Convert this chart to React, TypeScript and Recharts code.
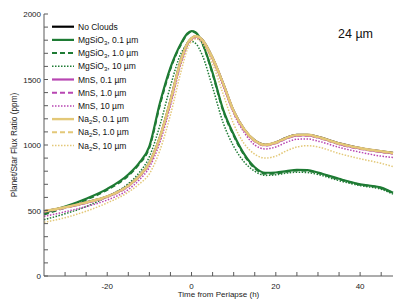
import { LineChart, Line, XAxis, YAxis } from "recharts"

// hours from periapse
const time = [-35, -30, -25, -20, -15, -12.5, -10, -7.5, -5, -2.5, -1, 0, 1, 2.5, 5, 7.5, 10, 12.5, 15, 17.5, 20, 22.5, 25, 27.5, 30, 35, 40, 45, 47.8]

// planet/star flux ratio, ppm
const noClouds = [495, 525, 562, 607, 690, 760, 864, 1060, 1340, 1650, 1775, 1815, 1832, 1805, 1665, 1470, 1260, 1120, 1035, 1002, 1020, 1055, 1077, 1078, 1062, 1012, 977, 952, 940]
const mgsio3_01 = [480, 530, 590, 665, 775, 860, 990, 1320, 1590, 1775, 1850, 1870, 1860, 1785, 1550, 1270, 1080, 930, 830, 788, 790, 800, 810, 808, 790, 742, 700, 675, 635]
const mgsio3_1 = [470, 522, 582, 658, 766, 852, 980, 1305, 1580, 1768, 1845, 1866, 1855, 1780, 1542, 1262, 1072, 922, 822, 780, 784, 795, 805, 803, 786, 738, 697, 671, 632]
const mgsio3_10 = [430, 475, 530, 605, 705, 785, 910, 1150, 1450, 1700, 1770, 1790, 1775, 1690, 1440, 1170, 990, 870, 800, 768, 772, 785, 792, 790, 775, 728, 690, 662, 625]
const mns_01 = [493, 523, 560, 605, 688, 758, 860, 1056, 1336, 1646, 1772, 1812, 1829, 1802, 1662, 1467, 1257, 1117, 1032, 999, 1017, 1052, 1074, 1075, 1059, 1009, 974, 949, 937]
const mns_1 = [490, 520, 557, 602, 684, 754, 856, 1050, 1330, 1640, 1768, 1810, 1826, 1799, 1658, 1463, 1253, 1113, 1028, 995, 1013, 1048, 1070, 1071, 1055, 1005, 970, 945, 933]
const mns_10 = [455, 490, 530, 580, 660, 730, 830, 1020, 1300, 1620, 1760, 1805, 1815, 1790, 1650, 1450, 1240, 1095, 1000, 970, 985, 1020, 1044, 1046, 1030, 982, 945, 915, 905]
const na2s_01 = [495, 525, 562, 607, 690, 760, 864, 1060, 1340, 1650, 1775, 1815, 1832, 1805, 1665, 1470, 1260, 1120, 1035, 1002, 1020, 1055, 1077, 1078, 1062, 1012, 977, 952, 940]
const na2s_1 = [492, 522, 559, 604, 686, 756, 860, 1054, 1334, 1644, 1771, 1812, 1829, 1802, 1661, 1466, 1256, 1116, 1031, 998, 1016, 1051, 1073, 1074, 1058, 1008, 973, 948, 936]
const na2s_10 = [410, 445, 495, 558, 640, 700, 780, 960, 1230, 1560, 1730, 1790, 1810, 1780, 1620, 1390, 1160, 1010, 930, 900, 915, 955, 985, 995, 985, 935, 895, 860, 835]

const xTicks = [-30, -25, -20, -15, -10, -5, 0, 5, 10, 15, 20, 25, 30, 35, 40, 45]
const yTicks = [0, 100, 200, 300, 400, 500, 600, 700, 800, 900, 1000, 1100, 1200, 1300, 1400, 1500, 1600, 1700, 1800, 1900, 2000]

const GREEN = "#1e7b34"
const MAGENTA = "#b846b2"
const GOLD = "#e3c878"
const AXIS = "#5a5a5a"
const FONT = "'Liberation Sans', Arial, Helvetica, sans-serif"

const DASH = "5 3"
const DOT = "1.5 1.5"

const series = [
  { key: "none", values: noClouds, color: "#000", dash: undefined, width: 2.2, name: "No Clouds", sub: "", rest: "" },
  { key: "mg01", values: mgsio3_01, color: GREEN, dash: undefined, width: 2.2, name: "MgSiO", sub: "3", rest: ", 0.1 µm" },
  { key: "mg1", values: mgsio3_1, color: GREEN, dash: DASH, width: 2, name: "MgSiO", sub: "3", rest: ", 1.0 µm" },
  { key: "mg10", values: mgsio3_10, color: GREEN, dash: DOT, width: 1.5, name: "MgSiO", sub: "3", rest: ", 10 µm" },
  { key: "mn01", values: mns_01, color: MAGENTA, dash: undefined, width: 2.2, name: "MnS, 0.1 µm", sub: "", rest: "" },
  { key: "mn1", values: mns_1, color: MAGENTA, dash: DASH, width: 2, name: "MnS, 1.0 µm", sub: "", rest: "" },
  { key: "mn10", values: mns_10, color: MAGENTA, dash: DOT, width: 1.5, name: "MnS, 10 µm", sub: "", rest: "" },
  { key: "na01", values: na2s_01, color: GOLD, dash: undefined, width: 2.4, name: "Na", sub: "2", rest: "S, 0.1 µm" },
  { key: "na1", values: na2s_1, color: GOLD, dash: DASH, width: 2, name: "Na", sub: "2", rest: "S, 1.0 µm" },
  { key: "na10", values: na2s_10, color: GOLD, dash: DOT, width: 1.5, name: "Na", sub: "2", rest: "S, 10 µm" },
]

const data = time.map((t, i) => {
  const row: Record<string, number> = { t }
  series.forEach((s) => (row[s.key] = s.values[i]))
  return row
})

function BottomTick({ x, y, payload }: any) {
  return (
    <g>
      <line x1={x} x2={x} y1={y} y2={y - 4} stroke={AXIS} />
      {payload.value % 20 === 0 && (
        <text x={x} y={y + 13} textAnchor="middle" fontSize={8} fill="#222" fontFamily={FONT}>
          {payload.value}
        </text>
      )}
    </g>
  )
}

function TopTick({ x, y }: any) {
  return <line x1={x} x2={x} y1={y} y2={y + 4} stroke={AXIS} />
}

function LeftTick({ x, y, payload }: any) {
  return (
    <g>
      <line x1={x} x2={x + 4} y1={y} y2={y} stroke={AXIS} />
      {payload.value % 500 === 0 && (
        <text x={x - 3} y={y + 3} textAnchor="end" fontSize={8} fill="#222" fontFamily={FONT}>
          {payload.value}
        </text>
      )}
    </g>
  )
}

function RightTick({ x, y }: any) {
  return <line x1={x} x2={x - 4} y1={y} y2={y} stroke={AXIS} />
}

function Overlay() {
  return (
    <svg width={407} height={305} style={{ position: "absolute", left: 0, top: 0, pointerEvents: "none" }}>
      {series.map((s, i) => {
        const cy = 26.7 + i * 13.2
        return (
          <g key={s.key}>
            <line x1={52} x2={74} y1={cy} y2={cy} stroke={s.color} strokeWidth={s.width} strokeDasharray={s.dash} />
            <text x={78} y={cy + 3} fontSize={8.5} fill="#111" fontFamily={FONT}>
              <tspan>{s.name}</tspan>
              {s.sub && (
                <tspan fontSize={6} dy={2}>
                  {s.sub}
                </tspan>
              )}
              {s.rest && <tspan dy={s.sub ? -2 : 0}>{s.rest}</tspan>}
            </text>
          </g>
        )
      })}
      <text x={338} y={38} fontSize={12.5} fill="#111" fontFamily={FONT}>
        24 µm
      </text>
      <text x={218.5} y={297} textAnchor="middle" fontSize={8} fill="#222" fontFamily={FONT}>
        Time from Periapse (h)
      </text>
      <text transform="translate(17,145) rotate(-90)" textAnchor="middle" fontSize={8.3} fill="#222" fontFamily={FONT}>
        Planet/Star Flux Ratio (ppm)
      </text>
    </svg>
  )
}

export default function App() {
  return (
    <div style={{ position: "absolute", left: 0, top: 0, width: 407, height: 305, background: "#fff" }}>
      <LineChart width={407} height={305} data={data} margin={{ top: 14, right: 14, bottom: 0, left: 0 }}>
        <XAxis
          dataKey="t"
          type="number"
          domain={[-35, 47.8]}
          ticks={xTicks}
          interval={0}
          height={29}
          tickSize={0}
          tickMargin={0}
          tickLine={false}
          tick={<BottomTick />}
          axisLine={{ stroke: AXIS }}
        />
        <XAxis
          xAxisId="top"
          orientation="top"
          dataKey="t"
          type="number"
          domain={[-35, 47.8]}
          ticks={xTicks}
          interval={0}
          height={0}
          tickSize={0}
          tickMargin={0}
          tickLine={false}
          tick={<TopTick />}
          axisLine={{ stroke: AXIS }}
        />
        <YAxis
          type="number"
          domain={[0, 2000]}
          ticks={yTicks}
          interval={0}
          width={44}
          tickSize={0}
          tickMargin={0}
          tickLine={false}
          tick={<LeftTick />}
          axisLine={{ stroke: AXIS }}
        />
        <YAxis
          yAxisId="right"
          orientation="right"
          type="number"
          domain={[0, 2000]}
          ticks={yTicks}
          interval={0}
          width={0}
          tickSize={0}
          tickMargin={0}
          tickLine={false}
          tick={<RightTick />}
          axisLine={{ stroke: AXIS }}
        />
        {series.map((s) => (
          <Line
            key={s.key}
            dataKey={s.key}
            type="monotone"
            stroke={s.color}
            strokeWidth={s.width}
            strokeDasharray={s.dash}
            dot={false}
            isAnimationActive={false}
          />
        ))}
      </LineChart>
      <Overlay />
    </div>
  )
}
